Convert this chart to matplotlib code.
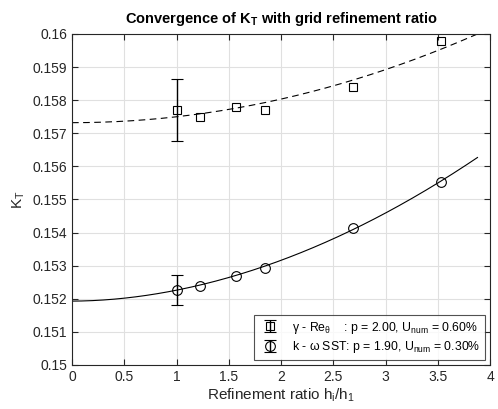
import numpy as np
import matplotlib
matplotlib.use("Agg")
import matplotlib.pyplot as plt

plt.rcParams['font.family'] = ['Liberation Sans', 'DejaVu Sans']
plt.rcParams['mathtext.fontset'] = 'custom'
plt.rcParams['mathtext.rm'] = 'Liberation Sans'
plt.rcParams['mathtext.it'] = 'Liberation Sans:italic'
plt.rcParams['mathtext.default'] = 'regular'

# Data
ratio = [1.0, 1.22, 1.567, 1.845, 2.69, 3.53]
kt_gamma = [0.15770, 0.15750, 0.15780, 0.15770, 0.15840, 0.15980]
kt_sst = [0.15226, 0.15239, 0.15270, 0.15294, 0.15414, 0.15554]
u_gamma = 0.0060  # relative
u_sst = 0.0030
fit_gamma = dict(f0=0.15732, a=0.000178, p=2.00)
fit_sst = dict(f0=0.15193, a=0.00033, p=1.90)
fit_xmax = 3.88

fig = plt.figure(figsize=(4.98, 4.09), dpi=100)
ax = fig.add_axes([0.1446, 0.1076, 0.8394, 0.8094])

xs = np.linspace(0, fit_xmax, 300)
ax.plot(xs, fit_gamma['f0'] + fit_gamma['a'] * xs ** fit_gamma['p'], 'k--', lw=0.8, dashes=(6, 4))
ax.plot(xs, fit_sst['f0'] + fit_sst['a'] * xs ** fit_sst['p'], 'k-', lw=0.8)

# markers (coarser grids)
ax.plot(ratio[1:], kt_gamma[1:], 's', mfc='none', mec='k', ms=6, mew=0.8)
ax.plot(ratio[1:], kt_sst[1:], 'o', mfc='none', mec='k', ms=7, mew=0.8)

# error bars at finest grid
h1 = ax.errorbar([ratio[0]], [kt_gamma[0]], yerr=[kt_gamma[0] * u_gamma], fmt='s',
                 mfc='none', mec='k', ecolor='k', ms=6, mew=0.8, elinewidth=1.0, capsize=4, capthick=1.0,
                 label=r'$\gamma$ - Re$_\theta$    : p = 2.00, U$_{num}$ = 0.60%')
h2 = ax.errorbar([ratio[0]], [kt_sst[0]], yerr=[kt_sst[0] * u_sst], fmt='o',
                 mfc='none', mec='k', ecolor='k', ms=7, mew=0.8, elinewidth=1.0, capsize=4, capthick=1.0,
                 label=r'k - $\omega$ SST: p = 1.90, U$_{num}$ = 0.30%')

ax.set_xlim(0, 4)
ax.set_ylim(0.15, 0.16)
ax.set_xticks(np.arange(0, 4.01, 0.5))
ax.set_xticklabels(['0', '0.5', '1', '1.5', '2', '2.5', '3', '3.5', '4'])
ax.set_yticks(np.arange(0.150, 0.16001, 0.001))
ax.set_yticklabels(['0.15', '0.151', '0.152', '0.153', '0.154', '0.155', '0.156', '0.157', '0.158', '0.159', '0.16'])
ax.grid(True, color='#e0e0e0', lw=0.8)
ax.set_axisbelow(True)
ax.tick_params(direction='in', top=True, right=True, labelsize=10, colors='#262626', length=4)
for s in ax.spines.values():
    s.set_color('#262626')
    s.set_linewidth(0.8)

ax.set_xlabel('Refinement ratio h$_i$/h$_1$', fontsize=11, color='#262626', labelpad=2)
ax.set_ylabel('K$_T$', fontsize=11, color='#262626', labelpad=4)
ax.set_title('Convergence of K$_T$ with grid refinement ratio', fontsize=10.5, fontweight='bold', pad=8)

leg = ax.legend(handles=[h1, h2], loc='lower right', fontsize=8.8, frameon=True, fancybox=False,
                edgecolor='#262626', borderaxespad=0.4, handlelength=1.8, handletextpad=0.9,
                borderpad=0.4, labelspacing=0.3)
leg.get_frame().set_linewidth(0.8)

fig.savefig('out.png', dpi=100)
